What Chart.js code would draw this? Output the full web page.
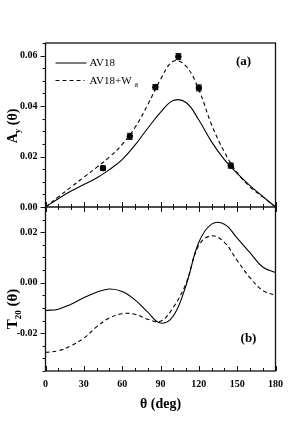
<!DOCTYPE html>
<html>
<head>
<meta charset="utf-8">
<script src="https://cdn.jsdelivr.net/npm/chart.js@4/dist/chart.umd.min.js"></script>
<style>
  html, body { margin: 0; padding: 0; background: #fff; }
  #wrap { position: relative; width: 306px; height: 436px; }
</style>
</head>
<body>
<div id="wrap"><canvas id="myChart" width="306" height="436"></canvas></div>
<script>
// theta grid (deg) shared by the four calculated curves
const angles = [0, 10, 20, 30, 40, 50, 60, 70, 80, 90, 100, 110, 120, 130, 140, 150, 160, 170, 180];

// panel (a): A_y
const ayAV18 = [0, 0.0033, 0.0063, 0.0089, 0.0115, 0.0148, 0.0188, 0.0245, 0.0312, 0.0375, 0.0422, 0.0414, 0.0345, 0.0258, 0.0188, 0.0133, 0.0085, 0.0042, 0];
const ayAV18Wa = [0, 0.004, 0.0079, 0.0118, 0.0157, 0.0198, 0.0248, 0.0315, 0.0405, 0.0505, 0.0578, 0.0558, 0.0465, 0.0326, 0.0218, 0.0136, 0.008, 0.004, 0];

// panel (b): T_20
const t20AV18 = [-0.011, -0.0105, -0.0085, -0.006, -0.0038, -0.0025, -0.0035, -0.0068, -0.0117, -0.016, -0.0132, -0.001, 0.016, 0.0232, 0.0232, 0.0177, 0.0119, 0.0062, 0.004];
const t20AV18Wa = [-0.0276, -0.027, -0.025, -0.022, -0.0175, -0.014, -0.0123, -0.0125, -0.0145, -0.0153, -0.0098, -0.0002, 0.0148, 0.0186, 0.016, 0.0088, 0.002, -0.0031, -0.005];

// measured A_y points
const expAngles = [45, 66, 86, 104, 120, 145];
const expAy = [0.0154, 0.028, 0.0475, 0.0596, 0.0472, 0.0164];
const expErr = [0.0009, 0.0012, 0.001, 0.0012, 0.0012, 0.001];

const FONT = "'Liberation Serif', 'Times New Roman', serif";

const toPts = (xs, ys) => xs.map((x, i) => ({ x: x, y: ys[i] }));

// frame, tick marks, error bars, legend and titles
const decor = {
  id: "decor",
  afterDatasetsDraw(chart) {
    const { ctx, chartArea: a, scales } = chart;
    const xs = scales.x, ya = scales.yA, yt = scales.yT;
    const mid = ya.bottom;
    ctx.save();
    ctx.strokeStyle = "#111";
    ctx.fillStyle = "#000";

    // error bars
    ctx.lineWidth = 1;
    expAngles.forEach((t, i) => {
      const px = xs.getPixelForValue(t);
      const hi = ya.getPixelForValue(expAy[i] + expErr[i]);
      const lo = ya.getPixelForValue(expAy[i] - expErr[i]);
      ctx.beginPath();
      ctx.moveTo(px, hi); ctx.lineTo(px, lo);
      ctx.moveTo(px - 3, hi); ctx.lineTo(px + 3, hi);
      ctx.moveTo(px - 3, lo); ctx.lineTo(px + 3, lo);
      ctx.stroke();
    });

    // frame
    ctx.lineWidth = 1.3;
    ctx.strokeRect(a.left, a.top, a.right - a.left, a.bottom - a.top);
    ctx.beginPath();
    ctx.moveTo(a.left, mid); ctx.lineTo(a.right, mid);
    ctx.stroke();

    // x ticks: inward at bottom, crossing at the shared middle axis
    ctx.lineWidth = 1;
    ctx.beginPath();
    for (let t = 0; t <= 180; t += 10) {
      const px = Math.round(xs.getPixelForValue(t)) + 0.5;
      const len = t % 30 === 0 ? 5 : 3;
      ctx.moveTo(px, a.bottom); ctx.lineTo(px, a.bottom - len);
      ctx.moveTo(px, mid - len); ctx.lineTo(px, mid + len);
    }
    // y ticks: outward on the left
    [ya, yt].forEach((s) => {
      for (let k = Math.ceil(s.min / 0.005); k * 0.005 <= s.max + 1e-9; k++) {
        const py = Math.round(s.getPixelForValue(k * 0.005)) + 0.5;
        const len = k % 4 === 0 ? 5 : 3;
        ctx.moveTo(a.left, py); ctx.lineTo(a.left - len, py);
      }
    });
    ctx.stroke();

    // legend
    const lx = a.left + 10;
    ctx.lineWidth = 1.1;
    ctx.beginPath();
    ctx.moveTo(lx, a.top + 20); ctx.lineTo(lx + 31, a.top + 20);
    ctx.stroke();
    ctx.setLineDash([4, 3]);
    ctx.beginPath();
    ctx.moveTo(lx, a.top + 37.5); ctx.lineTo(lx + 29, a.top + 37.5);
    ctx.stroke();
    ctx.setLineDash([]);
    ctx.font = "11px " + FONT;
    ctx.textBaseline = "middle";
    ctx.textAlign = "left";
    ctx.fillText("AV18", lx + 34, a.top + 20.5);
    ctx.fillText("AV18+W", lx + 34, a.top + 38);
    const w = ctx.measureText("AV18+W").width;
    ctx.font = "8px " + FONT;
    ctx.fillText("a", lx + 34 + w + 3, a.top + 42);

    // panel letters
    ctx.font = "bold 13px " + FONT;
    ctx.textAlign = "center";
    ctx.fillText("(a)", a.left + 198, a.top + 19);
    ctx.fillText("(b)", a.left + 203, yt.getPixelForValue(-0.022));

    // x title
    ctx.font = "bold 14px " + FONT;
    ctx.fillText("\u03b8 (deg)", (a.left + a.right) / 2, a.bottom + 33);

    // rotated y titles with subscripts
    const yTitle = (main, sub, rest, cx, cy, size) => {
      ctx.save();
      ctx.translate(cx, cy);
      ctx.rotate(-Math.PI / 2);
      ctx.textAlign = "left";
      ctx.font = "bold " + size + "px " + FONT;
      const w1 = ctx.measureText(main).width;
      const w3 = ctx.measureText(rest).width;
      ctx.font = "bold " + Math.round(size * 0.62) + "px " + FONT;
      const w2 = ctx.measureText(sub).width;
      let x = -(w1 + w2 + w3) / 2;
      ctx.font = "bold " + size + "px " + FONT;
      ctx.fillText(main, x, 0);
      x += w1;
      ctx.font = "bold " + Math.round(size * 0.62) + "px " + FONT;
      ctx.fillText(sub, x, size * 0.35);
      x += w2;
      ctx.font = "bold " + size + "px " + FONT;
      ctx.fillText(rest, x, 0);
      ctx.restore();
    };
    yTitle("A", "y", " (\u03b8)", 13, (ya.top + ya.bottom) / 2 + 1, 14);
    yTitle("T", "20", " (\u03b8)", 13, (yt.top + yt.bottom) / 2 + 20, 15);

    ctx.restore();
  },
};

const yTickFont = { family: FONT, size: 10, weight: "bold" };
const fmt = (v) => (Math.abs(v) < 1e-9 ? 0 : v).toFixed(2);

new Chart(document.getElementById("myChart"), {
  type: "line",
  data: {
    datasets: [
      { data: toPts(angles, t20AV18), yAxisID: "yT", borderColor: "#000", borderWidth: 1.1, pointRadius: 0, tension: 0.4 },
      { data: toPts(angles, t20AV18Wa), yAxisID: "yT", borderColor: "#000", borderWidth: 1.1, borderDash: [4, 3], pointRadius: 0, tension: 0.4 },
      { data: toPts(angles, ayAV18), yAxisID: "yA", borderColor: "#000", borderWidth: 1.1, pointRadius: 0, tension: 0.4 },
      { data: toPts(angles, ayAV18Wa), yAxisID: "yA", borderColor: "#000", borderWidth: 1.1, borderDash: [4, 3], pointRadius: 0, tension: 0.4 },
      { data: toPts(expAngles, expAy), yAxisID: "yA", showLine: false, pointRadius: 2.8, pointBackgroundColor: "#000", pointBorderColor: "#000" },
    ],
  },
  options: {
    responsive: false,
    animation: false,
    events: [],
    layout: { padding: { left: 0, right: 30.5, top: 43, bottom: 45 } },
    plugins: { legend: { display: false }, tooltip: { enabled: false } },
    scales: {
      x: {
        type: "linear",
        min: 0,
        max: 180,
        grid: { display: false, drawTicks: false },
        border: { display: false },
        ticks: { stepSize: 30, padding: 7, color: "#000", font: yTickFont },
        afterFit: (s) => { s.height = 20; },
      },
      yT: {
        position: "left",
        stack: "panels",
        stackWeight: 1,
        min: -0.035,
        max: 0.03,
        grid: { display: false, drawTicks: false },
        border: { display: false },
        ticks: { stepSize: 0.02, includeBounds: false, padding: 8, color: "#000", font: yTickFont, callback: fmt },
        afterFit: (s) => { s.width = 45.5; },
      },
      yA: {
        position: "left",
        stack: "panels",
        stackWeight: 1,
        min: 0,
        max: 0.065,
        grid: { display: false, drawTicks: false },
        border: { display: false },
        ticks: { stepSize: 0.02, includeBounds: false, padding: 8, color: "#000", font: yTickFont, callback: fmt },
        afterFit: (s) => { s.width = 45.5; },
      },
    },
  },
  plugins: [decor],
});
</script>
</body>
</html>
